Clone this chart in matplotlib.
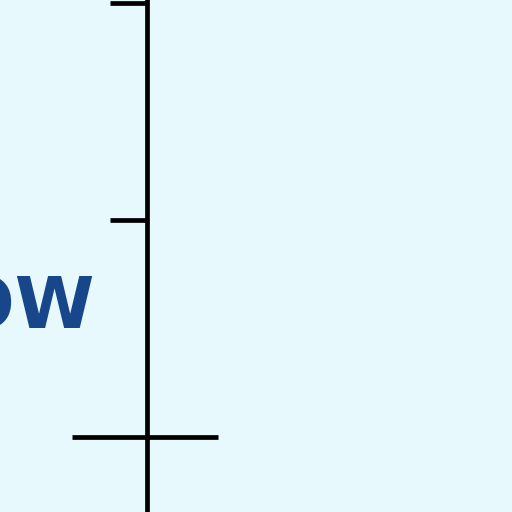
import matplotlib.pyplot as plt

# scale levels shown on the axis fragment
tick_levels = [2, 1]
cross_level = 0
label_text = 'LOW'
label_level = 0.59

fig = plt.figure(figsize=(5.12, 5.12), dpi=100)
fig.patch.set_facecolor('#e8f9fd')
ax = fig.add_axes([0, 0, 1, 1])
ax.set_facecolor('#e8f9fd')
ax.set_xlim(0, 512)
ax.set_ylim(-75 / 217, 437 / 217)
ax.axis('off')

# vertical axis line
ax.plot([147, 147], [-0.4, 2.1], color='black', lw=3.4, solid_capstyle='butt')

# left ticks
for v in tick_levels:
    ax.plot([110, 147], [v, v], color='black', lw=3.4, solid_capstyle='butt')

# cross at the baseline
ax.plot([72, 218], [cross_level, cross_level], color='black', lw=3.4, solid_capstyle='butt')

ax.text(95, label_level, label_text, ha='right', va='center', fontsize=52,
        fontweight='bold', color='#17478a', family='DejaVu Sans')

fig.savefig('out.png', dpi=100, facecolor=fig.get_facecolor())
